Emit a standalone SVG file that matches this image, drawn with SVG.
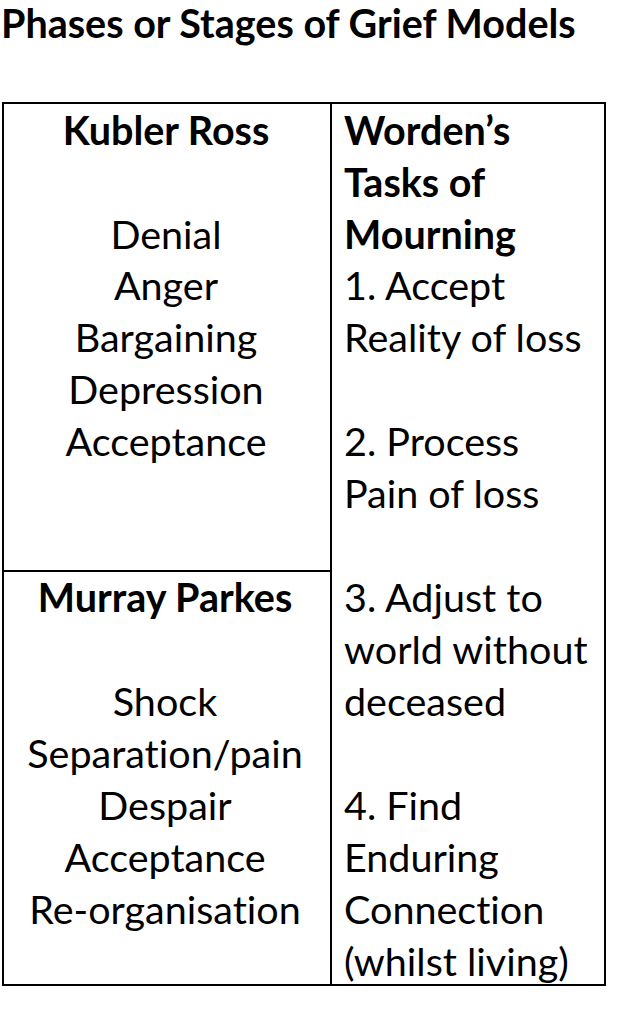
<svg xmlns="http://www.w3.org/2000/svg" width="627" height="1024" viewBox="0 0 627 1024">
<style>
text{font-family:Lato,"Open Sans",sans-serif;font-size:39.5px;fill:#000;font-variant-ligatures:none}
.b{font-weight:bold}
.c{text-anchor:middle}
</style>
<rect width="627" height="1024" fill="#fff"/>
<text x="1" y="38" class="b" style="font-size:39.5px">Phases or Stages of Grief Models</text>
<g id="table" fill="none" stroke="#000" stroke-width="2">
<rect x="3" y="103" width="602" height="882"/>
<line x1="331" y1="103" x2="331" y2="985"/>
<line x1="3" y1="571" x2="331" y2="571"/>
</g>
<g id="kubler">
<text x="166" y="145" class="b c">Kubler Ross</text>
<text x="166" y="249" class="c">Denial</text>
<text x="166" y="300" class="c">Anger</text>
<text x="166" y="352" class="c">Bargaining</text>
<text x="166" y="404" class="c">Depression</text>
<text x="166" y="456" class="c">Acceptance</text>
</g>
<g id="parkes">
<text x="165" y="612" class="b c">Murray Parkes</text>
<text x="165" y="716" class="c">Shock</text>
<text x="165" y="768" class="c">Separation/pain</text>
<text x="165" y="820" class="c">Despair</text>
<text x="165" y="872" class="c">Acceptance</text>
<text x="165" y="924" class="c">Re-organisation</text>
</g>
<g id="worden">
<text x="344" y="145" class="b">Worden’s</text>
<text x="344" y="197" class="b">Tasks of</text>
<text x="344" y="249" class="b">Mourning</text>
<text x="344" y="300">1. Accept</text>
<text x="344" y="352">Reality of loss</text>
<text x="344" y="456">2. Process</text>
<text x="344" y="508">Pain of loss</text>
<text x="344" y="612">3. Adjust to</text>
<text x="344" y="664">world without</text>
<text x="344" y="716">deceased</text>
<text x="344" y="820">4. Find</text>
<text x="344" y="872">Enduring</text>
<text x="344" y="924">Connection</text>
<text x="344" y="976">(whilst living)</text>
</g>
</svg>
